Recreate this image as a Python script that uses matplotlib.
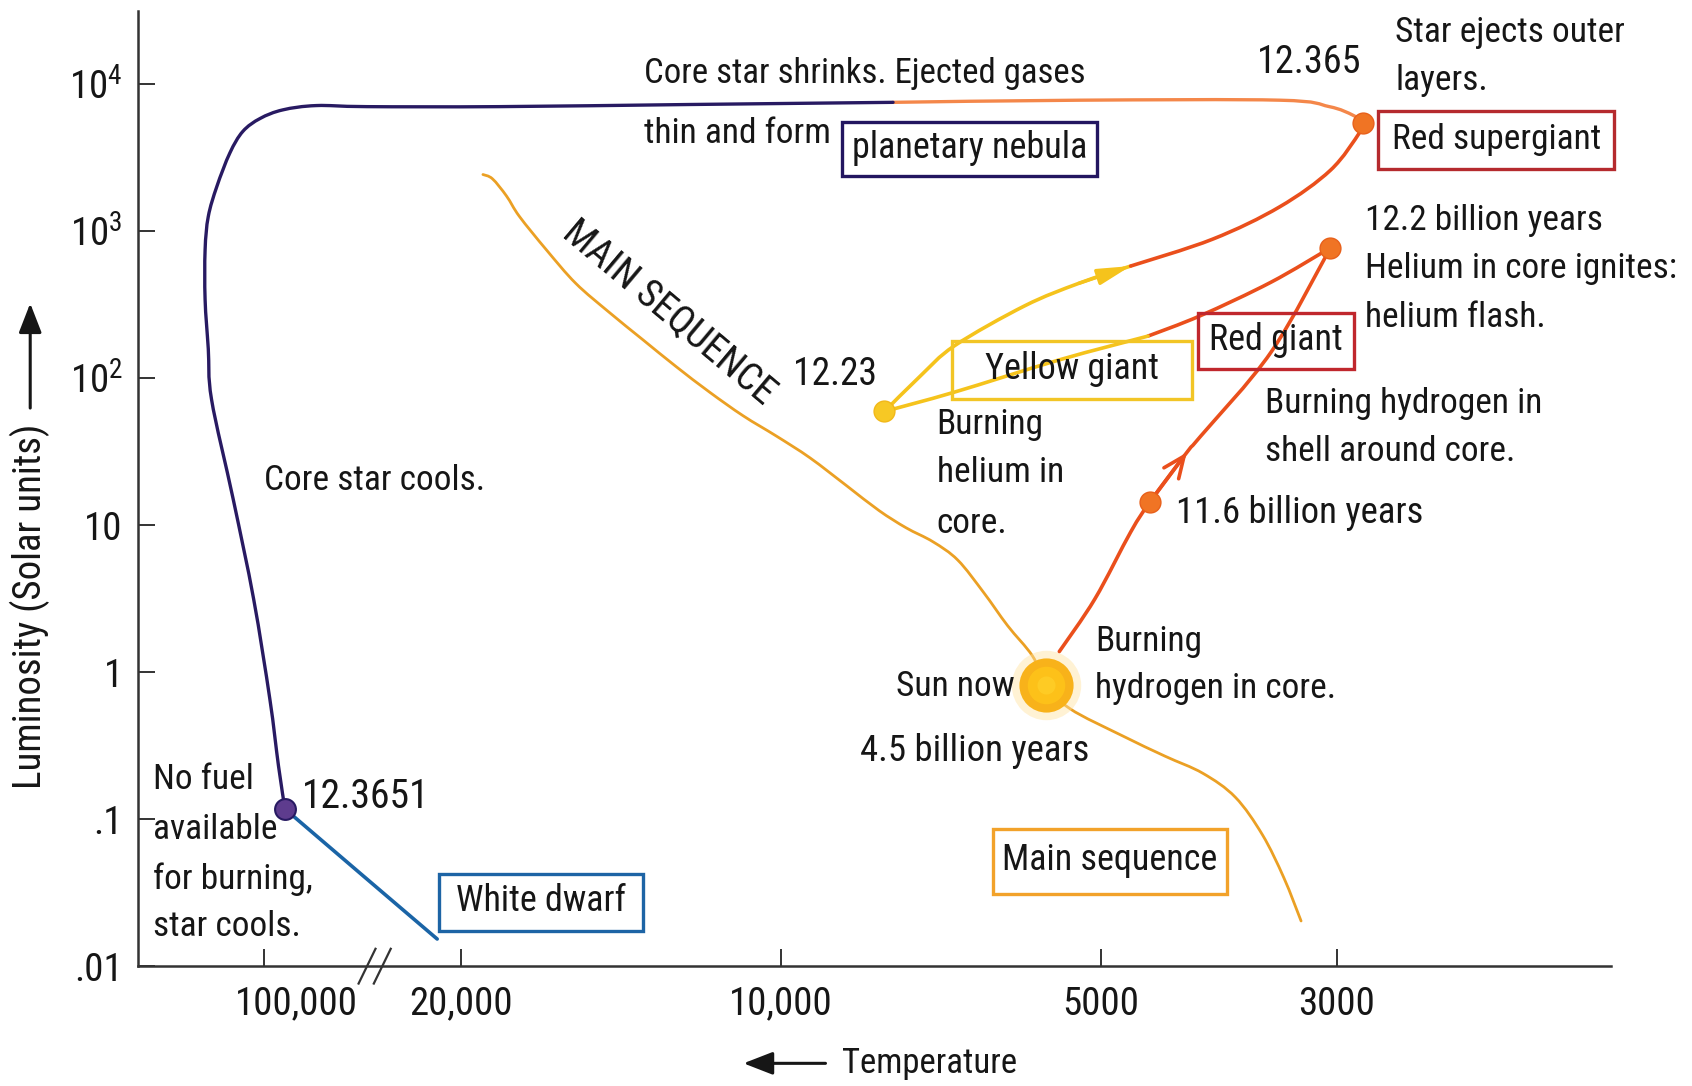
import numpy as np
import matplotlib
matplotlib.use('Agg')
import matplotlib.pyplot as plt
from matplotlib.patches import Rectangle, FancyArrowPatch, PathPatch
from matplotlib.path import Path
from matplotlib.lines import Line2D
from matplotlib.ticker import NullLocator, FixedLocator, FixedFormatter
from matplotlib.transforms import ScaledTranslation, IdentityTransform

FONT = ['Liberation Sans Narrow', 'Roboto Condensed', 'DejaVu Sans Condensed',
        'Open Sans Condensed', 'DejaVu Sans']
plt.rcParams['font.family'] = FONT
plt.rcParams['mathtext.default'] = 'regular'

# ---------------- data (temperature in K, luminosity in solar units) ----------------
# main sequence line (passes through the Sun)
ms_T = [19060, 18670, 18110, 17610, 16610, 15590, 14500, 13490, 12550, 11670, 10850,
        10090, 9390, 8670, 8085, 7625, 7193, 6817, 6446, 6120, 5800, 5627,
        5345, 4777, 4352, 4010, 3738, 3525, 3365, 3242]
ms_L = [2424, 2266, 1730, 1256, 744, 441, 280, 183, 120, 80.3, 55.4,
        40.2, 28.7, 18.5, 12.56, 9.59, 7.70, 5.78, 3.48, 2.07, 1.29, 0.82,
        0.563, 0.370, 0.268, 0.205, 0.141, 0.0783, 0.0399, 0.0203]

# Sun now
sun_T = [5627]
sun_L = [0.82]

# red giant branch: Sun -> helium flash
rgb_T = [5472, 5066, 4689, 4496, 4152, 4030, 3460, 3042]
rgb_L = [1.38, 3.15, 8.96, 14.4, 31.2, 40.2, 150, 770]

# after helium flash (red part, then yellow part)
hb_red_T = [3042, 3460, 4030, 4516]
hb_red_L = [770, 449, 266, 193]
hb_yel_T = [4516, 5472, 6865, 7990]
hb_yel_L = [193, 133, 80.3, 59.3]

# yellow giant heading back to the red
yel_up_T = [7990, 7396, 6865, 5898, 5246, 4689]
yel_up_L = [59.3, 103, 166, 310, 441, 578]

# red supergiant ascent
agb_T = [4689, 3926, 3396, 3042, 2856, 2837]
agb_L = [578, 881, 1461, 2594, 4681, 5448]

# ejection of the envelope (orange part of top track)
pn_T = [2837, 2897, 3050, 3396, 5233, 7843]
pn_L = [5448, 6132, 7019, 7765, 7765, 7508]

# core star shrinks / cools (purple track)
core_T = [7843, 12170, 18410, 43120, 65360, 86020, 103600, 119400, 132800, 147700,
          158500, 162700, 162700, 158500, 154300, 129300, 109300, 95670, 89130, 84530]
core_L = [7508, 7258, 7019, 7019, 7137, 6672, 5832, 4762, 3397, 2014,
          1256, 744, 342, 158, 71.4, 15.1, 3.15, 0.656, 0.2305, 0.1174]

# white dwarf cooling
wd_T = [84530, 45070, 24250]
wd_L = [0.1174, 0.042, 0.0153]

# marked stages
dot_orange_T = [2837, 3042, 4496]
dot_orange_L = [5448, 770, 14.4]
dot_yellow_T = [7990]
dot_yellow_L = [59.3]
dot_purple_T = [84530]
dot_purple_L = [0.1174]

# axis ticks
x_ticks = [100000, 20000, 10000, 5000, 3000]
x_labels = ['100,000', '20,000', '10,000', '5000', '3000']
y_ticks = [0.01, 0.1, 1, 10, 100, 1000, 10000]
y_labels = ['.01', '.1', '1', '10', '10$^2$', '10$^3$', '10$^4$']
T_BREAK = 20000.0
T_AXIS_BREAK = 40500.0

# ---------------- colours ----------------
C_PURPLE = '#281a62'
C_WD = '#1a64a6'
C_PN = '#f4874a'
C_RED = '#ea4f1c'
C_YEL = '#f5c31c'
C_MS = '#eba024'
C_TXT = '#161616'
C_AX = '#333333'

# ---------------- figure ----------------
W, H = 1568.0, 1006.0
fig = plt.figure(figsize=(16.92, 10.86), dpi=100)
ax = fig.add_axes([128 / W, 1 - 895 / H, (1493 - 128) / W, (895 - 9.75) / H])

SQUEEZE = 0.264
LB = np.log10(T_BREAK)


def fwd(T):
    lt = np.log10(np.clip(np.asarray(T, dtype=float), 1e-9, None))
    return np.where(lt <= LB, lt, LB + (lt - LB) * SQUEEZE)


def inv(u):
    u = np.asarray(u, dtype=float)
    with np.errstate(over='ignore'):
        return np.where(u <= LB, 10 ** u, 10 ** (LB + (u - LB) / SQUEEZE))


ax.set_xscale('function', functions=(fwd, inv))
ax.set_yscale('log')
ax.set_xlim(281800, 1657)
ax.set_ylim(0.01, 10 ** 4.5)

for s in ['top', 'right']:
    ax.spines[s].set_visible(False)
for s in ['left', 'bottom']:
    ax.spines[s].set_color(C_AX)
    ax.spines[s].set_linewidth(1.8)

ax.xaxis.set_major_locator(FixedLocator(x_ticks))
ax.xaxis.set_major_formatter(FixedFormatter(x_labels))
ax.xaxis.set_minor_locator(NullLocator())
ax.yaxis.set_major_locator(FixedLocator(y_ticks))
ax.yaxis.set_major_formatter(FixedFormatter(y_labels))
ax.yaxis.set_minor_locator(NullLocator())
ax.tick_params(axis='both', direction='in', length=12, width=1.4, color=C_AX,
               labelcolor=C_TXT, labelsize=28)
ax.tick_params(axis='x', pad=14)
ax.tick_params(axis='y', pad=11)
fig.canvas.draw()
lab0 = ax.xaxis.get_major_ticks()[0].label1
lab0.set_transform(lab0.get_transform() + ScaledTranslation(23 / 72, 0, fig.dpi_scale_trans))


# ---------------- tracks (smooth curves through the read points) ----------------
def smooth(T, L, color, lw, z=3, k=1 / 6):
    P = ax.transData.transform(np.column_stack([T, L]))
    n = len(P)
    verts = [P[0]]
    codes = [Path.MOVETO]
    for i in range(n - 1):
        p0 = P[i - 1] if i > 0 else P[i]
        p1 = P[i]
        p2 = P[i + 1]
        p3 = P[i + 2] if i + 2 < n else P[i + 1]
        verts += [p1 + (p2 - p0) * k, p2 - (p3 - p1) * k, p2]
        codes += [Path.CURVE4] * 3
    patch = PathPatch(Path(verts, codes), transform=IdentityTransform(), fill=False,
                      ec=color, lw=lw, zorder=z, capstyle='round', joinstyle='round')
    ax.add_artist(patch)


smooth(ms_T, ms_L, C_MS, 2.0, z=2)
smooth(rgb_T, rgb_L, C_RED, 2.6)
smooth(hb_red_T, hb_red_L, C_RED, 2.6)
smooth(hb_yel_T, hb_yel_L, C_YEL, 2.6)
smooth(yel_up_T, yel_up_L, C_YEL, 2.6)
smooth(agb_T, agb_L, C_RED, 2.6)
smooth(pn_T, pn_L, C_PN, 2.4)
smooth(core_T, core_L, C_PURPLE, 2.4)
smooth(wd_T, wd_L, C_WD, 2.6)

# direction arrows
ax.annotate('', xy=(yel_up_T[-1], yel_up_L[-1]), xytext=(yel_up_T[-2], yel_up_L[-2]),
            arrowprops=dict(arrowstyle='-|>,head_length=0.9,head_width=0.22', color=C_YEL,
                            lw=2.4, shrinkA=0, shrinkB=0, mutation_scale=22), zorder=4)
ax.annotate('', xy=(rgb_T[4], rgb_L[4]), xytext=(rgb_T[3], rgb_L[3]),
            arrowprops=dict(arrowstyle='->,head_length=0.7,head_width=0.3', color=C_RED,
                            lw=2.6, shrinkA=0, shrinkB=0, mutation_scale=22), zorder=4)

# stage markers
ax.plot(dot_orange_T, dot_orange_L, 'o', ms=15, color='#f07424', mec='#e8601a', zorder=5)
ax.plot(dot_yellow_T, dot_yellow_L, 'o', ms=15, color='#f7c824', mec='#f2b818', zorder=5)
ax.plot(dot_purple_T, dot_purple_L, 'o', ms=15, color='#5e3c8e', mec=C_PURPLE, mew=1.5, zorder=5)

# the Sun with a soft glow
ax.plot(sun_T, sun_L, 'o', ms=50, color='#ffe3a0', alpha=0.45, mew=0, zorder=5)
ax.plot(sun_T, sun_L, 'o', ms=39, color='#f8b21a', mew=0, zorder=6)
ax.plot(sun_T, sun_L, 'o', ms=27, color='#ffc419', alpha=0.85, mew=0, zorder=6)
ax.plot(sun_T, sun_L, 'o', ms=13, color='#ffd02a', alpha=0.7, mew=0, zorder=6)

# axis break mark
bx, by = fig.transFigure.inverted().transform(ax.transData.transform((T_AXIS_BREAK, 0.01)))
for dx in (-0.0045, 0.0045):
    fig.add_artist(Line2D([bx + dx - 0.005, bx + dx + 0.005], [by - 0.016, by + 0.016],
                          transform=fig.transFigure, color=C_AX, lw=1.6))


# ---------------- annotations ----------------
def fx(x):
    return x / W


def fy(y):
    return 1 - y / H


FS = 25.5


def txt(x, y, s, size=FS, **kw):
    fig.text(fx(x), fy(y), s, fontsize=size, va='center', ha=kw.pop('ha', 'left'),
             color=C_TXT, **kw)


def lines(x, ys, strs, size=FS):
    for y, s in zip(ys, strs):
        txt(x, y, s, size=size)


def box(x0, y0, x1, y1, s, color, size=FS):
    fig.add_artist(Rectangle((fx(x0), fy(y1)), fx(x1) - fx(x0), fy(y0) - fy(y1),
                             transform=fig.transFigure, fill=False, ec=color, lw=2.4))
    txt((x0 + x1) / 2, (y0 + y1) / 2 - 1, s, size=size, ha='center')


txt(597, 68, 'Core star shrinks. Ejected gases', size=25)
txt(597, 124, 'thin and form')
box(780, 113, 1017, 163, 'planetary nebula', '#231660', size=26)
txt(1165, 58, '12.365', size=27.5)
lines(1293, [30, 75], ['Star ejects outer', 'layers.'])
box(1277, 103, 1496, 157, 'Red supergiant', '#b52a2e')
lines(1265, [204, 249, 294], ['12.2 billion years', 'Helium in core ignites:', 'helium flash.'])
box(1110, 290, 1255, 342, 'Red giant', '#c0272d', size=26)
box(882, 316, 1105, 370, 'Yellow giant', '#f2c526', size=26)
txt(735, 347, '12.23', size=27)
fig.text(fx(620), fy(290), 'MAIN SEQUENCE', fontsize=28, rotation=-40, rotation_mode='anchor',
         ha='center', va='center', color=C_TXT)
lines(868, [393, 438, 485], ['Burning', 'helium in', 'core.'])
lines(1172, [374, 418], ['Burning hydrogen in', 'shell around core.'])
txt(1090, 475, '11.6 billion years', size=26.5)
txt(245, 445, 'Core star cools.')
lines(1015, [594, 638], ['Burning', 'hydrogen in core.'])
txt(830, 636, 'Sun now')
txt(797, 696, '4.5 billion years', size=26.5)
lines(142, [722, 768, 814, 858], ['No fuel', 'available', 'for burning,', 'star cools.'])
txt(280, 738, '12.3651', size=28.5)
box(407, 810, 596, 862, 'White dwarf', '#1d64a5', size=26)
box(920, 768, 1137, 828, 'Main sequence', '#f2a22a', size=26)

# axis titles with arrows
txt(780, 985, 'Temperature', size=25)
fig.add_artist(FancyArrowPatch((fx(765), fy(985)), (fx(689), fy(985)), transform=fig.transFigure,
                               arrowstyle='-|>,head_length=0.9,head_width=0.35', mutation_scale=20,
                               color=C_TXT, lw=2.2, shrinkA=0, shrinkB=0))
fig.text(fx(28), fy(562), 'Luminosity (Solar units)', fontsize=28, rotation=90,
         ha='center', va='center', color=C_TXT)
fig.add_artist(FancyArrowPatch((fx(28), fy(378)), (fx(28), fy(281)), transform=fig.transFigure,
                               arrowstyle='-|>,head_length=0.9,head_width=0.35', mutation_scale=20,
                               color=C_TXT, lw=2.2, shrinkA=0, shrinkB=0))

fig.savefig('out.png', dpi=100, facecolor='white')
